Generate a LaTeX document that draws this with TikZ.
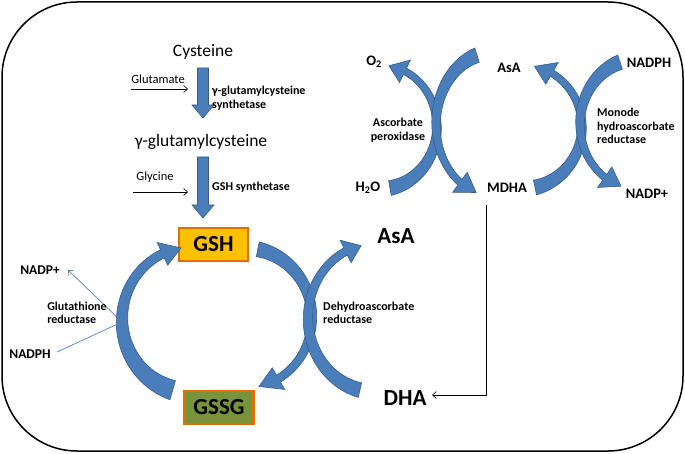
\documentclass[tikz,border=0pt]{standalone}
\usepackage{fontspec}
\setmainfont{Carlito}
\usetikzlibrary{arrows.meta}
\definecolor{arrfill}{RGB}{74,126,187}
\definecolor{arrdraw}{RGB}{56,93,138}
\definecolor{gshfill}{RGB}{255,192,0}
\definecolor{boxline}{RGB}{228,108,10}
\definecolor{gssgfill}{RGB}{119,147,60}
\definecolor{thinblue}{RGB}{79,129,189}
% curved block arrow: cx cy rx ry tailangle headangle tipangle tailwidth neckwidth
\newcommand{\carrow}[9]{%
  \filldraw[fill=arrfill, draw=arrdraw, line width=0.6pt]
    plot[domain=#5:#6, samples=40, variable=\t]
      ({#1+(#3+(#9+(#8-(#9))*(1-(\t-(#5))/(#6-(#5)))^2)/2)*cos(\t)},
       {#2+(#4+(#9+(#8-(#9))*(1-(\t-(#5))/(#6-(#5)))^2)/2)*sin(\t)})
    -- ({#1+(#3+12.5)*cos(#6)},{#2+(#4+12.5)*sin(#6)})
    -- ({#1+#3*cos(#7)},{#2+#4*sin(#7)})
    -- ({#1+(#3-12.5)*cos(#6)},{#2+(#4-12.5)*sin(#6)})
    -- plot[domain=#6:#5, samples=40, variable=\t]
      ({#1+(#3-(#9+(#8-(#9))*(1-(\t-(#5))/(#6-(#5)))^2)/2)*cos(\t)},
       {#2+(#4-(#9+(#8-(#9))*(1-(\t-(#5))/(#6-(#5)))^2)/2)*sin(\t)})
    -- cycle;}
% straight block arrow down: x, ytop, ytip
\newcommand{\blockdown}[3]{%
  \filldraw[fill=arrfill, draw=arrdraw, line width=0.6pt]
    (#1-5.5,#2) -- (#1+5.5,#2) -- (#1+5.5,#3-13) -- (#1+11,#3-13)
    -- (#1,#3) -- (#1-11,#3-13) -- (#1-5.5,#3-13) -- cycle;}
\begin{document}
\begin{tikzpicture}[x=1pt,y=-1pt,
  bigtxt/.style={font=\fontsize{17.5}{19}\selectfont, inner sep=0pt},
  midtxt/.style={font=\fontsize{12.5}{13}\selectfont, inner sep=0pt},
  enz/.style={font=\bfseries\fontsize{12}{13.5}\selectfont, inner sep=0pt, align=left},
  lab/.style={font=\bfseries\fontsize{14.5}{16}\selectfont, inner sep=0pt},
  labl/.style={font=\bfseries\fontsize{13.5}{15}\selectfont, inner sep=0pt},
  huge/.style={font=\bfseries\fontsize{23}{25}\selectfont, inner sep=0pt},
  gbox/.style={draw=boxline, line width=2.2pt, minimum width=69pt, minimum height=33pt, inner sep=0pt, font=\bfseries\fontsize{23}{25}\selectfont},
  thinarr/.style={-{Straight Barb[length=4pt,width=7pt]}, line width=0.6pt},
  blueline/.style={draw=thinblue, line width=0.7pt}]
\useasboundingbox (0,0) rectangle (685,454);
\draw[line width=1.5pt, rounded corners=75pt] (2,2) rectangle (683,451);

% synthesis pathway
\node[bigtxt] (cys) at (203,52) {Cysteine};
\blockdown{203}{68}{118}
\node[midtxt] (glu) at (158,79) {Glutamate};
\coordinate (glua) at (131,89);
\coordinate (glub) at (188,89);
\draw[thinarr] (glua) -- (glub);
\node[enz, anchor=west] (gcs) at (212,98) {γ-glutamylcysteine\\synthetase};
\node[bigtxt] (gglu) at (201,142) {γ-glutamylcysteine};
\blockdown{203}{157}{218}
\node[midtxt] (gly) at (155,177) {Glycine};
\coordinate (glya) at (133,192);
\coordinate (glyb) at (188,192);
\draw[thinarr] (glya) -- (glyb);
\node[enz, anchor=west] (gshs) at (212,187) {GSH synthetase};

% GSH / GSSG
\node[gbox, fill=gshfill] (gsh) at (213.5,244.5) {GSH};
\node[gbox, fill=gssgfill] (gssg) at (219,407.5) {GSSG};

% left cycle arrow
\carrow{192}{320}{70}{73}{106}{245}{261}{20}{9}
\coordinate (gj) at (122,322);
\node[labl] (nadpl) at (40,270) {NADP+};
\node[labl] (nadphl) at (30,354) {NADPH};
\coordinate (nadptip) at (68,270);
\coordinate (nadphs) at (57,352);
\draw[blueline, -{Straight Barb[length=4pt,width=7pt]}] (gj) -- (nadptip);
\draw[blueline] (nadphs) -- (gj);
\node[enz] (gr) at (77,313) {Glutathione\\reductase};

% central X
\carrow{245}{318}{67}{70}{-79}{60}{78}{15}{8}
\carrow{375}{318}{67}{74}{103}{244}{258}{15}{8}
\node[enz, anchor=west] (dhar) at (323,313) {Dehydroascorbate\\reductase};
\node[huge] (asa) at (396,236) {AsA};
\node[huge] (dha) at (405,398) {DHA};

% top right cycles
\carrow{380}{127}{57}{62}{80}{-64}{-81}{15}{7}
\carrow{494}{124}{58}{72}{253}{126}{108}{15}{7}
\carrow{522}{127}{60}{62}{77.5}{-60}{-78}{15}{7}
\carrow{638}{124}{58}{65}{252}{125}{107}{15}{7}
\node[lab] (o2) at (374,62) {O\textsubscript{2}};
\node[lab] (asa2) at (509,68) {AsA};
\node[lab] (nadph) at (649,63) {NADPH};
\node[lab] (h2o) at (368,188) {H\textsubscript{2}O};
\node[lab] (mdha) at (507,188) {MDHA};
\node[lab] (nadp) at (647,194) {NADP+};
\node[enz, align=center] (apx) at (398,130) {Ascorbate\\peroxidase};
\node[enz, anchor=west] (mdhar) at (597,126) {Monode\\hydroascorbate\\reductase};

% MDHA -> DHA
\coordinate (m1) at (486,205);
\coordinate (m2) at (432,395);
\draw[line width=0.6pt, -{Straight Barb[length=4pt,width=7pt]}] (m1) |- (m2);
\end{tikzpicture}
\end{document}
